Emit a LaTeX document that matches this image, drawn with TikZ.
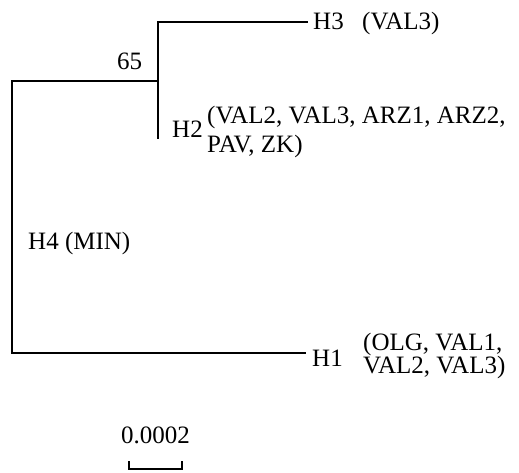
\documentclass[tikz,border=0pt]{standalone}
\usepackage{fontspec}
\setmainfont{Liberation Serif}
\begin{document}
\begin{tikzpicture}[x=1pt,y=-1pt,
  branch/.style={line width=1.7pt,line cap=rect},
  lbl/.style={anchor=base west,inner sep=0pt,font=\fontsize{25}{28}\selectfont}]
\useasboundingbox (0,0) rectangle (519,473);
% junctions and tips
\coordinate (root) at (12,81);
\coordinate (rootlow) at (12,353);
\coordinate (inner) at (158,81);
\coordinate (innertop) at (158,22);
\coordinate (innerlow) at (158,138);
\coordinate (tipH3) at (307,22);
\coordinate (tipH1) at (305,353);
% branches
\draw[branch] (inner) -- (root) -- (rootlow) -- (tipH1);
\draw[branch] (innerlow) -- (innertop) -- (tipH3);
% labels
\node[lbl] (h3) at (313,30) {H3};
\node[lbl] (h3s) at (362,30) {(VAL3)};
\node[lbl] (boot) at (117,70) {65};
\node[lbl] (h2) at (172,138) {H2};
\node[lbl] (h2a) at (207,124) {(VAL2, VAL3, ARZ1, ARZ2,};
\node[lbl] (h2b) at (207,153) {PAV, ZK)};
\node[lbl] (h4) at (28,249) {H4 (MIN)};
\node[lbl] (h1) at (312,366) {H1};
\node[lbl] (h1a) at (363,350) {(OLG, VAL1,};
\node[lbl] (h1b) at (363,373) {VAL2, VAL3)};
% scale bar
\node[lbl] (scale) at (121,443) {0.0002};
\coordinate (sbl) at (129,469);
\coordinate (sbr) at (182,469);
\draw[line width=1.7pt] ([yshift=8pt]sbl) -- (sbl) -- (sbr) -- ([yshift=8pt]sbr);
\end{tikzpicture}
\end{document}
